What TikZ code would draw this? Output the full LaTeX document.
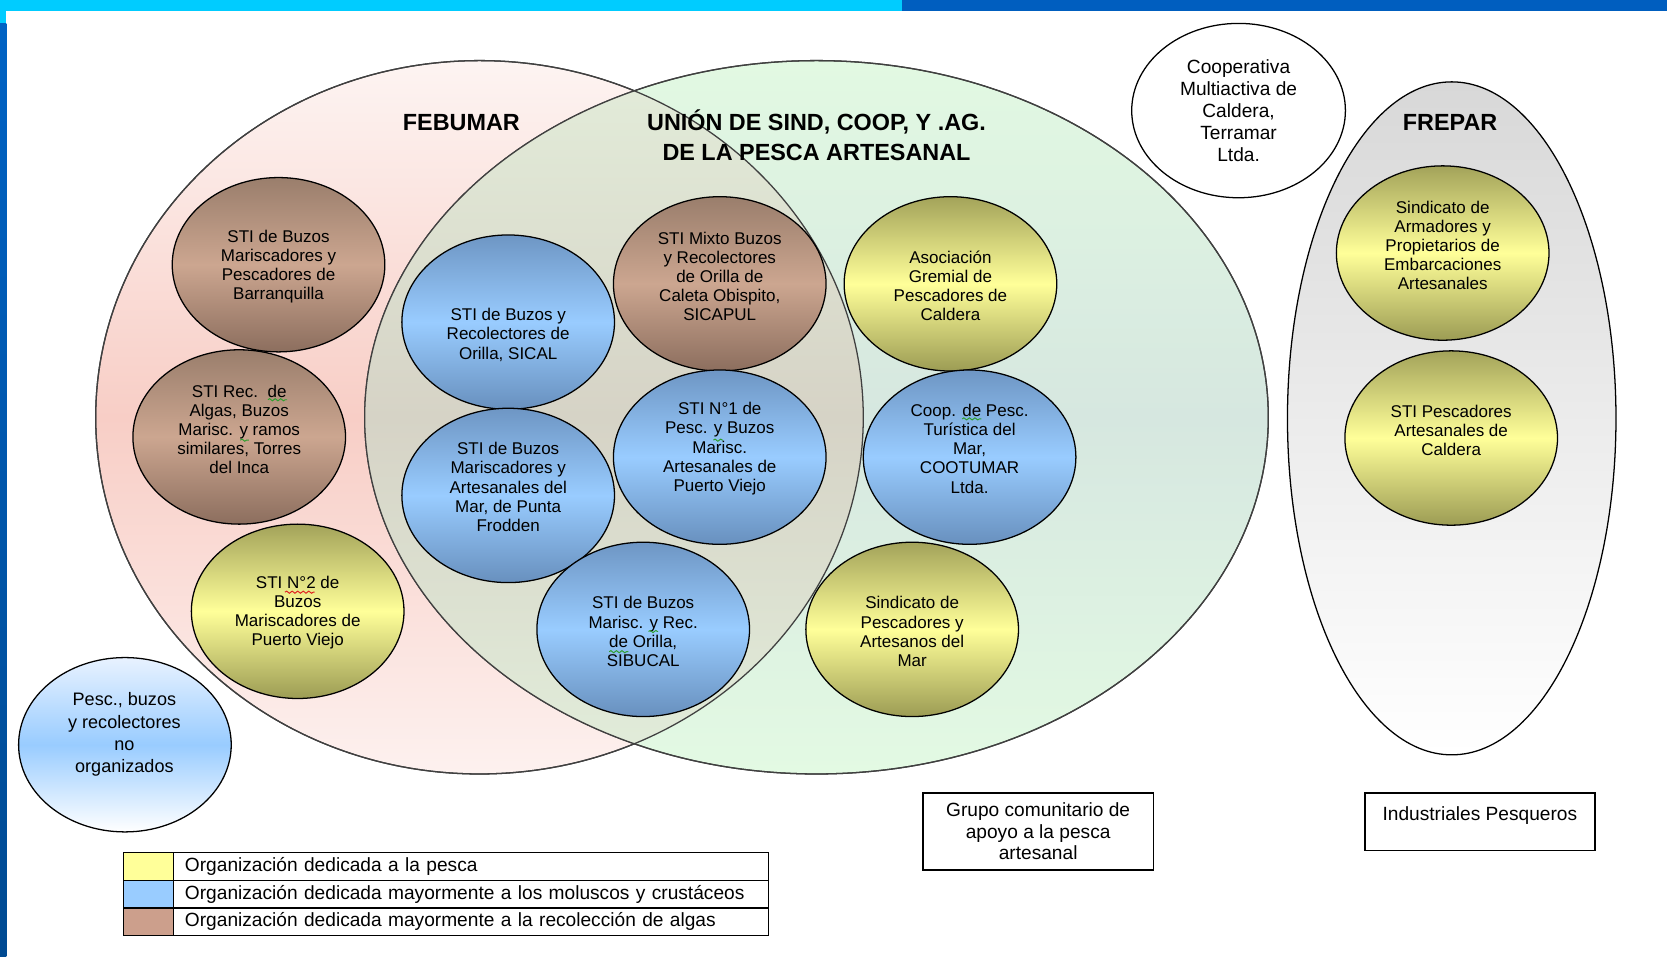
\documentclass[tikz,border=0pt]{standalone}
\usepackage{fontspec}
\setmainfont{Liberation Sans}
\usetikzlibrary{shapes.geometric,decorations.pathmorphing}
\definecolor{cyanbar}{HTML}{00CCFF}
\definecolor{darkbar}{HTML}{005EBF}
\definecolor{leftTop}{HTML}{0062C4}
\definecolor{leftBot}{HTML}{004A92}
\definecolor{pkTop}{HTML}{FDF4F2}
\definecolor{pkMid}{HTML}{F8CEC6}
\definecolor{pkBot}{HTML}{FDF1EF}
\definecolor{grTop}{HTML}{E2F9E2}
\definecolor{grMid}{HTML}{D6E7E0}
\definecolor{grBot}{HTML}{E3FAE3}
\definecolor{ovTop}{HTML}{E3EDDA}
\definecolor{ovMid}{HTML}{D6D3C6}
\definecolor{ovBot}{HTML}{E2EEDB}
\definecolor{fpTop}{HTML}{D8D8D8}
\definecolor{fpBot}{HTML}{FFFFFF}
\definecolor{brTop}{HTML}{9A7E6C}
\definecolor{brMid}{HTML}{CCA690}
\definecolor{brBot}{HTML}{8C6E5E}
\definecolor{blTop}{HTML}{6E96C4}
\definecolor{blMid}{HTML}{99CCFF}
\definecolor{blBot}{HTML}{6890BE}
\definecolor{ylTop}{HTML}{A3A35A}
\definecolor{ylMid}{HTML}{FFFF99}
\definecolor{ylBot}{HTML}{9C9C54}
\definecolor{pcTop}{HTML}{E8F2FF}
\definecolor{lgYellow}{HTML}{FFFF99}
\definecolor{lgBlue}{HTML}{99CCFF}
\definecolor{lgBrown}{HTML}{CC9F8C}
\definecolor{outl}{HTML}{404040}
\definecolor{spellG}{HTML}{2EA02E}
\definecolor{spellR}{HTML}{E02020}
\begin{document}
\begin{tikzpicture}[x=0.5pt,y=0.5pt,
  orgc/.style={ellipse, draw=black, line width=0.6pt, minimum width=100pt, minimum height=82pt, inner sep=0pt},
  brownc/.style={orgc, top color=brTop, bottom color=brBot, middle color=brMid},
  bluec/.style={orgc, top color=blTop, bottom color=blBot, middle color=blMid},
  yellowc/.style={orgc, top color=ylTop, bottom color=ylBot, middle color=ylMid},
  ctext/.style={align=center, inner sep=0pt, font=\fontsize{8}{9}\selectfont},
  title/.style={align=center, inner sep=0pt, font=\fontsize{11}{14}\selectfont\bfseries},
  bigell/.style={ellipse, inner sep=0pt, draw=outl, line width=0.6pt},
  boxn/.style={rectangle, draw=black, line width=0.8pt, inner sep=0pt},
  swatch/.style={rectangle, draw=black, line width=0.7pt, minimum width=23.5pt, minimum height=13pt, inner sep=0pt},
  lgcell/.style={rectangle, draw=black, line width=0.7pt, minimum width=280pt, minimum height=13pt, text width=269pt, inner xsep=5.5pt, inner ysep=0pt, align=left, font=\fontsize{9}{10}\selectfont},
  squig/.style={line width=0.45pt, decorate, decoration={snake, amplitude=0.5pt, segment length=2.6pt}}
]
\useasboundingbox (0,0) rectangle (1568,-900);
% frame bars
\fill[cyanbar] (0,0) rectangle (848,-10);
\fill[darkbar] (848,0) rectangle (1568,-10);
\shade[top color=leftTop, bottom color=leftBot] (0,-22) rectangle (6,-900);
\fill[cyanbar] (0,-10) rectangle (6,-22);

% big groups
\node[bigell, minimum width=361pt, minimum height=335.5pt, top color=pkTop, bottom color=pkBot, middle color=pkMid] (feb) at (451,-392.5) {};
\node[bigell, minimum width=425pt, minimum height=335.5pt, top color=grTop, bottom color=grBot, middle color=grMid] (uni) at (768,-392.5) {};
\begin{scope}
  \clip (feb.center) ellipse [x radius=180.5pt, y radius=167.75pt];
  \path[top color=ovTop, bottom color=ovBot, middle color=ovMid] (uni.center) ellipse [x radius=212.5pt, y radius=167.75pt];
\end{scope}
\draw[outl, line width=0.6pt] (feb.center) ellipse [x radius=180.5pt, y radius=167.75pt];
\draw[outl, line width=0.6pt] (uni.center) ellipse [x radius=212.5pt, y radius=167.75pt];

\node[bigell, draw=black, minimum width=154.5pt, minimum height=316.5pt, top color=fpTop, bottom color=fpBot, middle color=fpTop!50!fpBot] (frep) at (1365.5,-393.5) {};

\node[ellipse, draw=black, line width=0.6pt, fill=white, minimum width=100.5pt, minimum height=82pt, inner sep=0pt, align=center, font=\fontsize{9}{10.3}\selectfont] (coop) at (1165,-104) {Cooperativa\\Multiactiva de\\Caldera,\\Terramar\\Ltda.};

% titles
\node[title] (tfeb) at (434,-115) {FEBUMAR};
\node[title] (tuni) at (768,-127) {UNIÓN DE SIND, COOP, Y .AG.\\DE LA PESCA ARTESANAL};
\node[title] (tfrep) at (1364,-115) {FREPAR};

% organisations
\node[brownc] (c1) at (262,-249) {};
\node[ctext] (t1) at (262,-251) {STI de Buzos\\Mariscadores y\\Pescadores de\\Barranquilla};
\node[brownc] (c2) at (225,-411) {};
\node[ctext] (t2) at (225,-404) {STI Rec.~~de\\Algas, Buzos\\Marisc. y ramos\\similares, Torres\\del Inca};
\node[yellowc] (c3) at (280,-575) {};
\node[ctext] (t3) at (280,-576) {STI N°2 de\\Buzos\\Mariscadores de\\Puerto Viejo};
\node[bluec] (c4) at (478,-303) {};
\node[ctext] (t4) at (478,-315) {STI de Buzos y\\Recolectores de\\Orilla, SICAL};
\node[bluec] (c5) at (478,-466) {};
\node[ctext] (t5) at (478,-458) {STI de Buzos\\Mariscadores y\\Artesanales del\\Mar, de Punta\\Frodden};
\node[brownc] (c6) at (677,-267) {};
\node[ctext] (t6) at (677,-260) {STI Mixto Buzos\\y Recolectores\\de Orilla de\\Caleta Obispito,\\SICAPUL};
\node[bluec] (c7) at (677,-430) {};
\node[ctext] (t7) at (677,-422) {STI N°1 de\\Pesc. y Buzos\\Marisc.\\Artesanales de\\Puerto Viejo};
\node[bluec] (c8) at (605,-592) {};
\node[ctext] (t8) at (605,-594) {STI de Buzos\\Marisc. y Rec.\\de Orilla,\\SIBUCAL};
\node[yellowc] (c9) at (894,-267) {};
\node[ctext] (t9) at (894,-269) {Asociación\\Gremial de\\Pescadores de\\Caldera};
\node[bluec] (c10) at (912,-430) {};
\node[ctext] (t10) at (912,-422) {Coop. de Pesc.\\Turística del\\Mar,\\COOTUMAR\\Ltda.};
\node[yellowc] (c11) at (858,-592) {};
\node[ctext] (t11) at (858,-594) {Sindicato de\\Pescadores y\\Artesanos del\\Mar};
\node[yellowc] (c12) at (1357,-238) {};
\node[ctext] (t12) at (1357,-231) {Sindicato de\\Armadores y\\Propietarios de\\Embarcaciones\\Artesanales};
\node[yellowc] (c13) at (1365,-412) {};
\node[ctext] (t13) at (1365,-405) {STI Pescadores\\Artesanales de\\Caldera};

% spell-check squiggles
\coordinate (s1a) at (252,-376); \coordinate (s1b) at (270,-376);
\coordinate (s2a) at (226,-414); \coordinate (s2b) at (234,-414);
\coordinate (s3a) at (268,-557); \coordinate (s3b) at (296,-557);
\coordinate (s4a) at (671,-414); \coordinate (s4b) at (680,-414);
\coordinate (s5a) at (905,-394); \coordinate (s5b) at (923,-394);
\coordinate (s6a) at (610,-594); \coordinate (s6b) at (619,-594);
\coordinate (s7a) at (573,-613); \coordinate (s7b) at (591,-613);
\draw[squig, spellG] (s1a) -- (s1b);
\draw[squig, spellG] (s2a) -- (s2b);
\draw[squig, spellR] (s3a) -- (s3b);
\draw[squig, spellG] (s4a) -- (s4b);
\draw[squig, spellG] (s5a) -- (s5b);
\draw[squig, spellG] (s6a) -- (s6b);
\draw[squig, spellG] (s7a) -- (s7b);

% unorganised
\node[ellipse, draw=black, line width=0.6pt, minimum width=100pt, minimum height=82pt, inner sep=0pt, top color=pcTop, bottom color=white, middle color=blMid] (pesc) at (117.5,-700.5) {};
\node[align=center, inner sep=0pt, font=\fontsize{8.5}{10.5}\selectfont] (pesct) at (117,-691) {Pesc., buzos\\y recolectores\\no\\organizados};

% boxes
\node[boxn, minimum width=108.5pt, minimum height=36pt, align=center, font=\fontsize{9}{10}\selectfont] (grp) at (976.5,-782) {Grupo comunitario de\\apoyo a la pesca\\artesanal};
\node[boxn, minimum width=108pt, minimum height=27pt] (ind) at (1392,-773) {};
\node[inner sep=0pt, font=\fontsize{9}{10}\selectfont] (indt) at (1392,-767) {Industriales Pesqueros};

% legend
\node[swatch, fill=lgYellow] (sw1) at (139.5,-815) {};
\node[lgcell] (lg1) at (443,-815) {Organización dedicada a la pesca};
\node[swatch, fill=lgBlue] (sw2) at (139.5,-841) {};
\node[lgcell] (lg2) at (443,-841) {Organización dedicada mayormente a los moluscos y crustáceos};
\node[swatch, fill=lgBrown] (sw3) at (139.5,-867) {};
\node[lgcell] (lg3) at (443,-867) {Organización dedicada mayormente a la recolección de algas};
\end{tikzpicture}
\end{document}
